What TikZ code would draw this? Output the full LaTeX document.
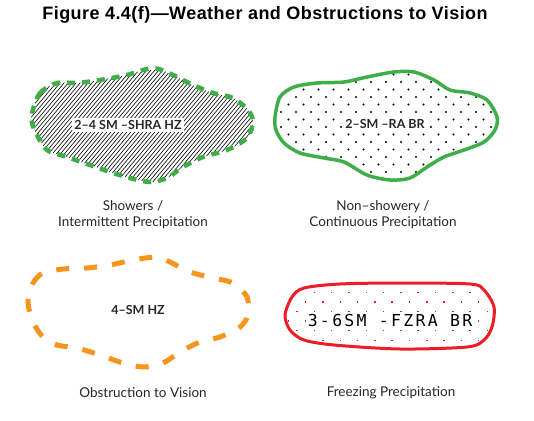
\documentclass[tikz,border=0pt]{standalone}
\usepackage{fontspec}
\setmainfont{Lato}
\newfontfamily\titlefont[LetterSpace=2.5]{Liberation Sans}
\newfontfamily\metarfont[LetterSpace=14]{DejaVu Sans Mono}
\usetikzlibrary{positioning}
\definecolor{wxgreen}{HTML}{3FAE49}
\definecolor{wxorange}{HTML}{F7941E}
\definecolor{wxred}{HTML}{EE1C25}

% outlines of the four areas (pixel coordinates, y downwards)
\def\showerarea{plot[smooth cycle] coordinates {(32,113) (40,93) (57,83) (77,83) (100,80) (127,75) (153,68) (173,75) (193,85) (213,93) (233,98) (248,110) (253,122) (247,138) (227,150) (203,157) (183,167) (167,178) (150,182) (130,178) (110,172) (90,165) (67,157) (47,150) (37,135) (32,123)}}
\def\steadyarea{plot[smooth cycle] coordinates {(275,117) (280,97) (294,87) (317,83) (344,82) (367,77) (394,72) (414,72) (434,80) (450,90) (470,93) (487,100) (497,117) (495,130) (484,142) (464,150) (444,157) (427,167) (410,178) (390,180) (367,175) (344,162) (324,158) (300,153) (284,143) (276,130)}}
\def\obscurarea{plot[smooth cycle] coordinates {(28,300) (33,283) (43,273) (63,269) (87,268) (110,265) (133,260) (157,257) (170,262) (190,272) (213,278) (233,283) (247,297) (248,315) (240,327) (220,337) (200,342) (180,352) (163,363) (143,367) (123,363) (100,355) (77,348) (57,345) (43,337) (32,320)}}
\def\freezearea{plot[smooth cycle] coordinates {(285,315) (292,297) (304,288) (340,284) (400,283) (470,284) (484,290) (494,307) (492,327) (484,340) (467,347) (400,349) (334,345) (304,340) (290,330)}}

\begin{document}
\begin{tikzpicture}[
        x=1pt, y=-1pt,
        heading/.style={font=\titlefont\bfseries\fontsize{18}{20}\selectfont},
        caption/.style={align=center, text=black!85, font=\fontsize{13.5}{16}\selectfont},
        wxtext/.style={fill=white, inner sep=2.5pt, text=black!85, font=\bfseries\fontsize{12.5}{14}\selectfont},
        metar/.style={fill=white, inner sep=1pt, font=\metarfont\fontsize{16.5}{18}\selectfont},
        hatchline/.style={line width=0.6pt},
        greendash/.style={draw=wxgreen, line width=4.5pt, dash pattern=on 8pt off 7pt},
        greenline/.style={draw=wxgreen, line width=3.5pt},
        orangedash/.style={draw=wxorange, line width=5pt, dash pattern=on 13pt off 15pt},
        redline/.style={draw=wxred, line width=3pt}
    ]
    \useasboundingbox (0,0) rectangle (534,420);
    \node [heading] (title) at (265,15) {Figure 4.4(f)—Weather and Obstructions to Vision};

    % showers
    \begin{scope}
        \clip \showerarea;
        \foreach \x in {-110,-106,...,260}
            \draw [hatchline] (\x,190) -- ++(101,-120);
    \end{scope}
    \draw [greendash] \showerarea;
    \node [wxtext] (shra) at (128,125) {2–4 SM –SHRA HZ};
    \node [caption] (cap-shra) at (133,215) {Showers /\\Intermittent Precipitation};

    % continuous precipitation
    \begin{scope}
        \clip \steadyarea;
        \foreach \r in {0,...,16}
            \foreach \c in {0,...,16}
                \fill ({266+15*\c+7.5*mod(\r,2)},{67+7.5*\r}) circle (1.2pt);
    \end{scope}
    \draw [greenline] \steadyarea;
    \node [wxtext] (ra) at (385,124) {2–SM –RA BR};
    \node [caption] (cap-ra) at (383,215) {Non–showery /\\Continuous Precipitation};

    % obstruction
    \draw [orangedash] \obscurarea;
    \node [wxtext] (hz) at (138,310) {4–SM HZ};
    \node [caption] (cap-hz) at (143,393) {Obstruction to Vision};

    % freezing precipitation
    \begin{scope}
        \clip \freezearea;
        \foreach \r in {0,...,7}
            \foreach \c in {0,...,13}
                \fill [wxred] ({279+17.3*\c+8.65*mod(\r,2)},{291.5+9.6*\r}) rectangle ++(1.5,1.5);
    \end{scope}
    \draw [redline] \freezearea;
    \node [metar] (fzra) at (390,320) {3-6SM -FZRA BR};
    \node [caption] (cap-fzra) at (391,393) {Freezing Precipitation};
\end{tikzpicture}
\end{document}
